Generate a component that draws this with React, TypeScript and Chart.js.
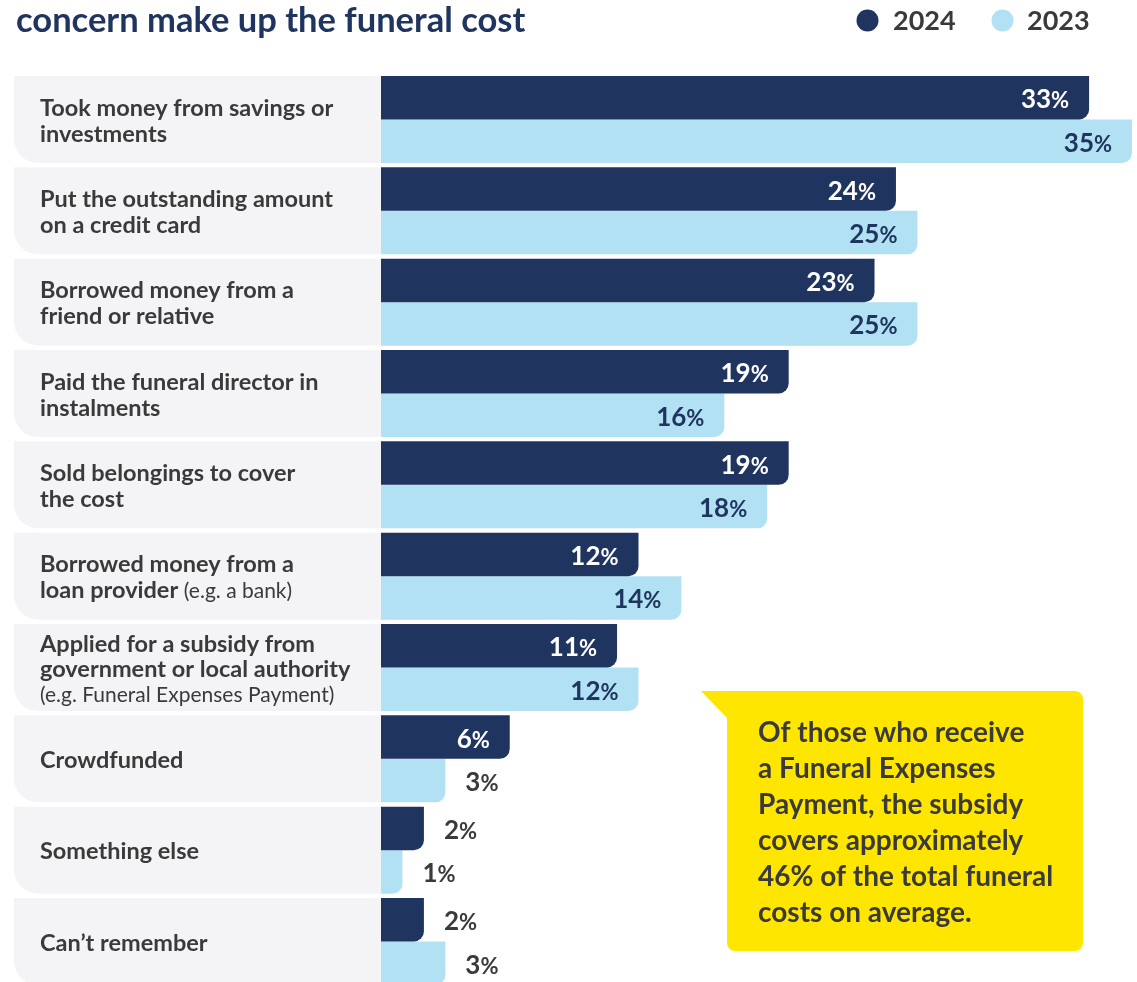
import React, { useEffect, useRef } from "react";
import { Chart, registerables } from "chart.js";

Chart.register(...registerables);

// ---------- DATA ----------
const categoryLines: string[][] = [
  ["Took money from savings or", "investments"],
  ["Put the outstanding amount", "on a credit card"],
  ["Borrowed money from a", "friend or relative"],
  ["Paid the funeral director in", "instalments"],
  ["Sold belongings to cover", "the cost"],
  ["Borrowed money from a", "loan provider (e.g. a bank)"],
  ["Applied for a subsidy from", "government or local authority", "(e.g. Funeral Expenses Payment)"],
  ["Crowdfunded"],
  ["Something else"],
  ["Can\u2019t remember"],
];
const categories: string[] = categoryLines.map((l) => l.join(" "));
const values2024: number[] = [33, 24, 23, 19, 19, 12, 11, 6, 2, 2];
const values2023: number[] = [35, 25, 25, 16, 18, 14, 12, 3, 1, 3];
const seriesNames: string[] = ["2024", "2023"];
const titleText = "concern make up the funeral cost";
const calloutLines: string[] = [
  "Of those who receive",
  "a Funeral Expenses",
  "Payment, the subsidy",
  "covers approximately",
  "46% of the total funeral",
  "costs on average.",
];

// ---------- STYLE ----------
const W = 1137;
const H = 1000;
const FONT = "Lato, 'Noto Sans', sans-serif";
const NAVY = "#1f3560";
const LIGHT = "#b2e1f3";
const ROW_BG = "#f4f4f6";
const TEXT = "#3a3a3a";
const YELLOW = "#ffe600";
const CAT_PCT = 87 / 91.33;

function drawLabel(ctx: CanvasRenderingContext2D, lines: string[], x: number, cy: number) {
  const n = lines.length;
  const lh = n === 3 ? 25 : 26;
  const first = cy + 9.25 - ((n - 1) * lh) / 2;
  ctx.textAlign = "left";
  ctx.textBaseline = "alphabetic";
  ctx.fillStyle = TEXT;
  lines.forEach((ln, k) => {
    const yy = first + k * lh;
    const p = ln.indexOf("(");
    const boldPart = p === -1 ? ln : ln.slice(0, p);
    const regPart = p === -1 ? "" : ln.slice(p);
    let w = 0;
    if (boldPart) {
      ctx.font = `bold 23.5px ${FONT}`;
      ctx.fillText(boldPart, x, yy);
      w = ctx.measureText(boldPart).width;
    }
    if (regPart) {
      ctx.font = `400 21px ${FONT}`;
      ctx.fillText(regPart, x + w, yy);
    }
  });
}

function drawValue(
  ctx: CanvasRenderingContext2D,
  v: number,
  barEnd: number,
  cy: number,
  inside: boolean,
  color: string
) {
  const num = String(v);
  ctx.font = `bold 26px ${FONT}`;
  const wn = ctx.measureText(num).width;
  ctx.font = `bold 22px ${FONT}`;
  const wp = ctx.measureText("%").width;
  const total = wn + wp;
  const x0 = inside ? barEnd - 20 - total : barEnd + 20;
  const base = cy + 10.5;
  ctx.fillStyle = color;
  ctx.textAlign = "left";
  ctx.textBaseline = "alphabetic";
  ctx.font = `bold 26px ${FONT}`;
  ctx.fillText(num, x0, base);
  ctx.font = `bold 22px ${FONT}`;
  ctx.fillText("%", x0 + wn, base);
}

const overlayPlugin = {
  id: "overlay",
  beforeDatasetsDraw(chart: any) {
    const ctx: CanvasRenderingContext2D = chart.ctx;
    const y = chart.scales.y;
    const pitch = y.getPixelForValue(1) - y.getPixelForValue(0);
    const half = (pitch * CAT_PCT) / 2;
    const x0 = 14;
    const x1 = chart.chartArea.left;
    const r = 24;
    ctx.save();
    ctx.fillStyle = ROW_BG;
    categories.forEach((_, i) => {
      const cy = y.getPixelForValue(i);
      const top = cy - half;
      const bot = cy + half;
      ctx.beginPath();
      ctx.moveTo(x0, top);
      ctx.lineTo(x1, top);
      ctx.lineTo(x1, bot);
      ctx.lineTo(x0 + r, bot);
      ctx.arcTo(x0, bot, x0, bot - r, r);
      ctx.closePath();
      ctx.fill();
    });
    ctx.restore();
  },
  afterDatasetsDraw(chart: any) {
    const ctx: CanvasRenderingContext2D = chart.ctx;
    const y = chart.scales.y;
    ctx.save();
    // Row labels
    categories.forEach((_, i) => {
      drawLabel(ctx, categoryLines[i], 40, y.getPixelForValue(i));
    });
    // Value labels
    [0, 1].forEach((d) => {
      const meta = chart.getDatasetMeta(d);
      const vals = d === 0 ? values2024 : values2023;
      meta.data.forEach((el: any, i: number) => {
        const v = vals[i];
        const inside = v >= 5;
        const color = inside ? (d === 0 ? "#ffffff" : NAVY) : TEXT;
        drawValue(ctx, v, el.x, el.y, inside, color);
      });
    });
    // Title
    ctx.fillStyle = NAVY;
    ctx.font = `bold 34.5px ${FONT}`;
    ctx.textAlign = "left";
    ctx.textBaseline = "alphabetic";
    ctx.fillText(titleText, 16, 32);
    // Legend
    const legend = [
      { cx: 867.5, tx: 893, color: NAVY, name: seriesNames[0] },
      { cx: 1002.5, tx: 1027, color: LIGHT, name: seriesNames[1] },
    ];
    legend.forEach((l) => {
      ctx.beginPath();
      ctx.fillStyle = l.color;
      ctx.arc(l.cx, 20.5, 11, 0, Math.PI * 2);
      ctx.fill();
      ctx.fillStyle = TEXT;
      ctx.font = `bold 27px ${FONT}`;
      ctx.fillText(l.name, l.tx, 30);
    });
    // Callout
    const L = 727, R = 1083, T = 691, B = 951, cr = 8;
    ctx.beginPath();
    ctx.moveTo(701, T);
    ctx.lineTo(R - cr, T);
    ctx.arcTo(R, T, R, T + cr, cr);
    ctx.lineTo(R, B - cr);
    ctx.arcTo(R, B, R - cr, B, cr);
    ctx.lineTo(L + cr, B);
    ctx.arcTo(L, B, L, B - cr, cr);
    ctx.lineTo(L, 718);
    ctx.closePath();
    ctx.fillStyle = YELLOW;
    ctx.fill();
    ctx.fillStyle = TEXT;
    ctx.font = `bold 28px ${FONT}`;
    calloutLines.forEach((ln, k) => {
      ctx.fillText(ln, 758, 742 + k * 36);
    });
    ctx.restore();
  },
};

export default function App() {
  const ref = useRef<HTMLCanvasElement | null>(null);
  useEffect(() => {
    if (!ref.current) return;
    const chart = new Chart(ref.current, {
      type: "bar",
      data: {
        labels: categories,
        datasets: [
          {
            label: seriesNames[0],
            data: values2024,
            backgroundColor: NAVY,
            borderRadius: { topLeft: 0, topRight: 0, bottomLeft: 0, bottomRight: 10 },
            borderSkipped: "start",
            categoryPercentage: CAT_PCT,
            barPercentage: 1,
          },
          {
            label: seriesNames[1],
            data: values2023,
            backgroundColor: LIGHT,
            borderRadius: { topLeft: 0, topRight: 0, bottomLeft: 0, bottomRight: 10 },
            borderSkipped: "start",
            categoryPercentage: CAT_PCT,
            barPercentage: 1,
          },
        ],
      },
      options: {
        indexAxis: "y",
        responsive: false,
        animation: false,
        layout: { padding: { left: 381, right: 5, top: 73.83, bottom: H - 987.13 } },
        scales: {
          x: { display: false, min: 0, max: 35, grid: { display: false } },
          y: { display: false, grid: { display: false } },
        },
        plugins: {
          legend: { display: false },
          tooltip: { enabled: false },
          title: { display: false },
        },
      },
      plugins: [overlayPlugin],
    } as any);
    return () => chart.destroy();
  }, []);
  return (
    <div
      style={{
        position: "fixed",
        left: 0,
        top: 0,
        width: W,
        height: 982,
        overflow: "hidden",
        background: "#ffffff",
      }}
    >
      <canvas ref={ref} width={W} height={H} style={{ display: "block", width: W, height: H }} />
    </div>
  );
}
